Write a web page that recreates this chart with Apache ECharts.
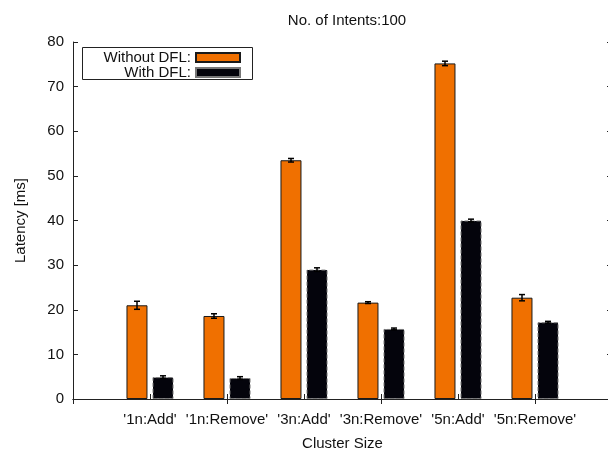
<!DOCTYPE html>
<html>
<head>
<meta charset="utf-8">
<script src="https://cdn.jsdelivr.net/npm/echarts@6/dist/echarts.min.js"></script>
<style>
  html, body { margin: 0; padding: 0; background: #fff; }
  #chart { width: 608px; height: 449px; }
</style>
</head>
<body>
<div id="chart"></div>
<script>
"use strict";

const clusters = ["'1n:Add'", "'1n:Remove'", "'3n:Add'", "'3n:Remove'", "'5n:Add'", "'5n:Remove'"];
const withoutDfl = [21.0, 18.6, 53.5, 21.6, 75.2, 22.7];
const withoutDflErr = [0.9, 0.5, 0.4, 0.2, 0.5, 0.7];
const withDfl = [4.9, 4.7, 29.0, 15.7, 40.0, 17.2];
const withDflErr = [0.3, 0.3, 0.4, 0.2, 0.3, 0.2];
const yTicks = [0, 10, 20, 30, 40, 50, 60, 70, 80];

const colors = { orange: "#f07000", black: "#04040c", line: "#222", text: "#111" };
const font = "Liberation Sans";

// one empty slot on each side so the groups sit where gnuplot put them
const categories = ["", ...clusters, ""];
const pad = (values) => [null, ...values, null];

function errorSeries(values, errors, shift) {
  return {
    type: "custom", silent: true, z: 5,
    data: values.map((v, i) => [i + 1, v - errors[i], v + errors[i]]),
    encode: { x: 0, y: [1, 2] },
    renderItem: (params, api) => {
      const lo = api.coord([api.value(0), api.value(1)]);
      const hi = api.coord([api.value(0), api.value(2)]);
      const x = lo[0] + shift;
      const style = { stroke: "#000", lineWidth: 1.5 };
      return {
        type: "group",
        children: [
          { type: "line", shape: { x1: x, y1: lo[1], x2: x, y2: hi[1] }, style },
          { type: "line", shape: { x1: x - 3, y1: lo[1], x2: x + 3, y2: lo[1] }, style },
          { type: "line", shape: { x1: x - 3, y1: hi[1], x2: x + 3, y2: hi[1] }, style },
        ],
      };
    },
  };
}

const tickStyle = { show: true, inside: true, length: 5, lineStyle: { color: colors.line } };
const axisLine = { show: true, lineStyle: { color: colors.line, width: 1 } };

const chart = echarts.init(document.getElementById("chart"), null, { renderer: "canvas" });
chart.setOption({
  animation: false,
  backgroundColor: "#fff",
  textStyle: { fontFamily: font, color: colors.text },
  title: {
    text: "No. of Intents:100", left: 342, top: 8, textAlign: "center",
    textStyle: { fontFamily: font, fontSize: 15, fontWeight: "normal", color: colors.text },
  },
  grid: { left: 73, right: -4, top: 42, bottom: 50, outerBoundsMode: "none", containLabel: false },
  legend: [
    { data: ["Without DFL:"], right: 367, top: 50 },
    { data: ["With DFL:"], right: 367, top: 65 },
  ].map((l) => ({
    ...l, orient: "vertical", align: "right", icon: "rect", itemWidth: 44, itemHeight: 9, padding: 0,
    selectedMode: false, textStyle: { fontFamily: font, fontSize: 15, color: colors.text },
  })),
  graphic: [{
    type: "rect", left: 82, top: 47, z: 0,
    shape: { width: 170, height: 32 },
    style: { fill: "#fff", stroke: colors.line, lineWidth: 1 },
  }],
  xAxis: [
    {
      type: "category", data: categories, boundaryGap: false, position: "bottom",
      axisLine, axisTick: tickStyle, splitLine: { show: false },
      axisLabel: { color: colors.text, fontFamily: font, fontSize: 15, margin: 13, interval: 0 },
      name: "Cluster Size", nameLocation: "middle", nameGap: 37,
      nameTextStyle: { color: colors.text, fontFamily: font, fontSize: 15 },
    },
    {
      type: "category", data: categories, boundaryGap: false, position: "top",
      axisLine, axisTick: tickStyle, axisLabel: { show: false }, splitLine: { show: false },
    },
  ],
  yAxis: [
    {
      type: "value", min: 0, max: 80, interval: 10, position: "left",
      axisLine, axisTick: tickStyle, splitLine: { show: false },
      axisLabel: {
        color: colors.text, fontFamily: font, fontSize: 15, margin: 9,
        formatter: (v) => (yTicks.includes(v) ? String(v) : ""),
      },
      name: "Latency [ms]", nameLocation: "middle", nameGap: 45, nameRotate: 90,
      nameTextStyle: { color: colors.text, fontFamily: font, fontSize: 15 },
    },
    {
      type: "value", min: 0, max: 80, interval: 10, position: "right",
      axisLine, axisTick: tickStyle, axisLabel: { show: false }, splitLine: { show: false },
    },
  ],
  series: [
    {
      name: "Without DFL:", type: "bar", data: pad(withoutDfl), barWidth: 21, barGap: "24%",
      itemStyle: { color: colors.orange, borderColor: "#1a1a1a", borderWidth: 1 },
    },
    {
      name: "With DFL:", type: "bar", data: pad(withDfl), barWidth: 21, barGap: "24%",
      itemStyle: { color: colors.black, borderColor: "#777", borderWidth: 1, borderType: "dashed" },
    },
    errorSeries(withoutDfl, withoutDflErr, -13),
    errorSeries(withDfl, withDflErr, 13),
  ],
});
</script>
</body>
</html>
